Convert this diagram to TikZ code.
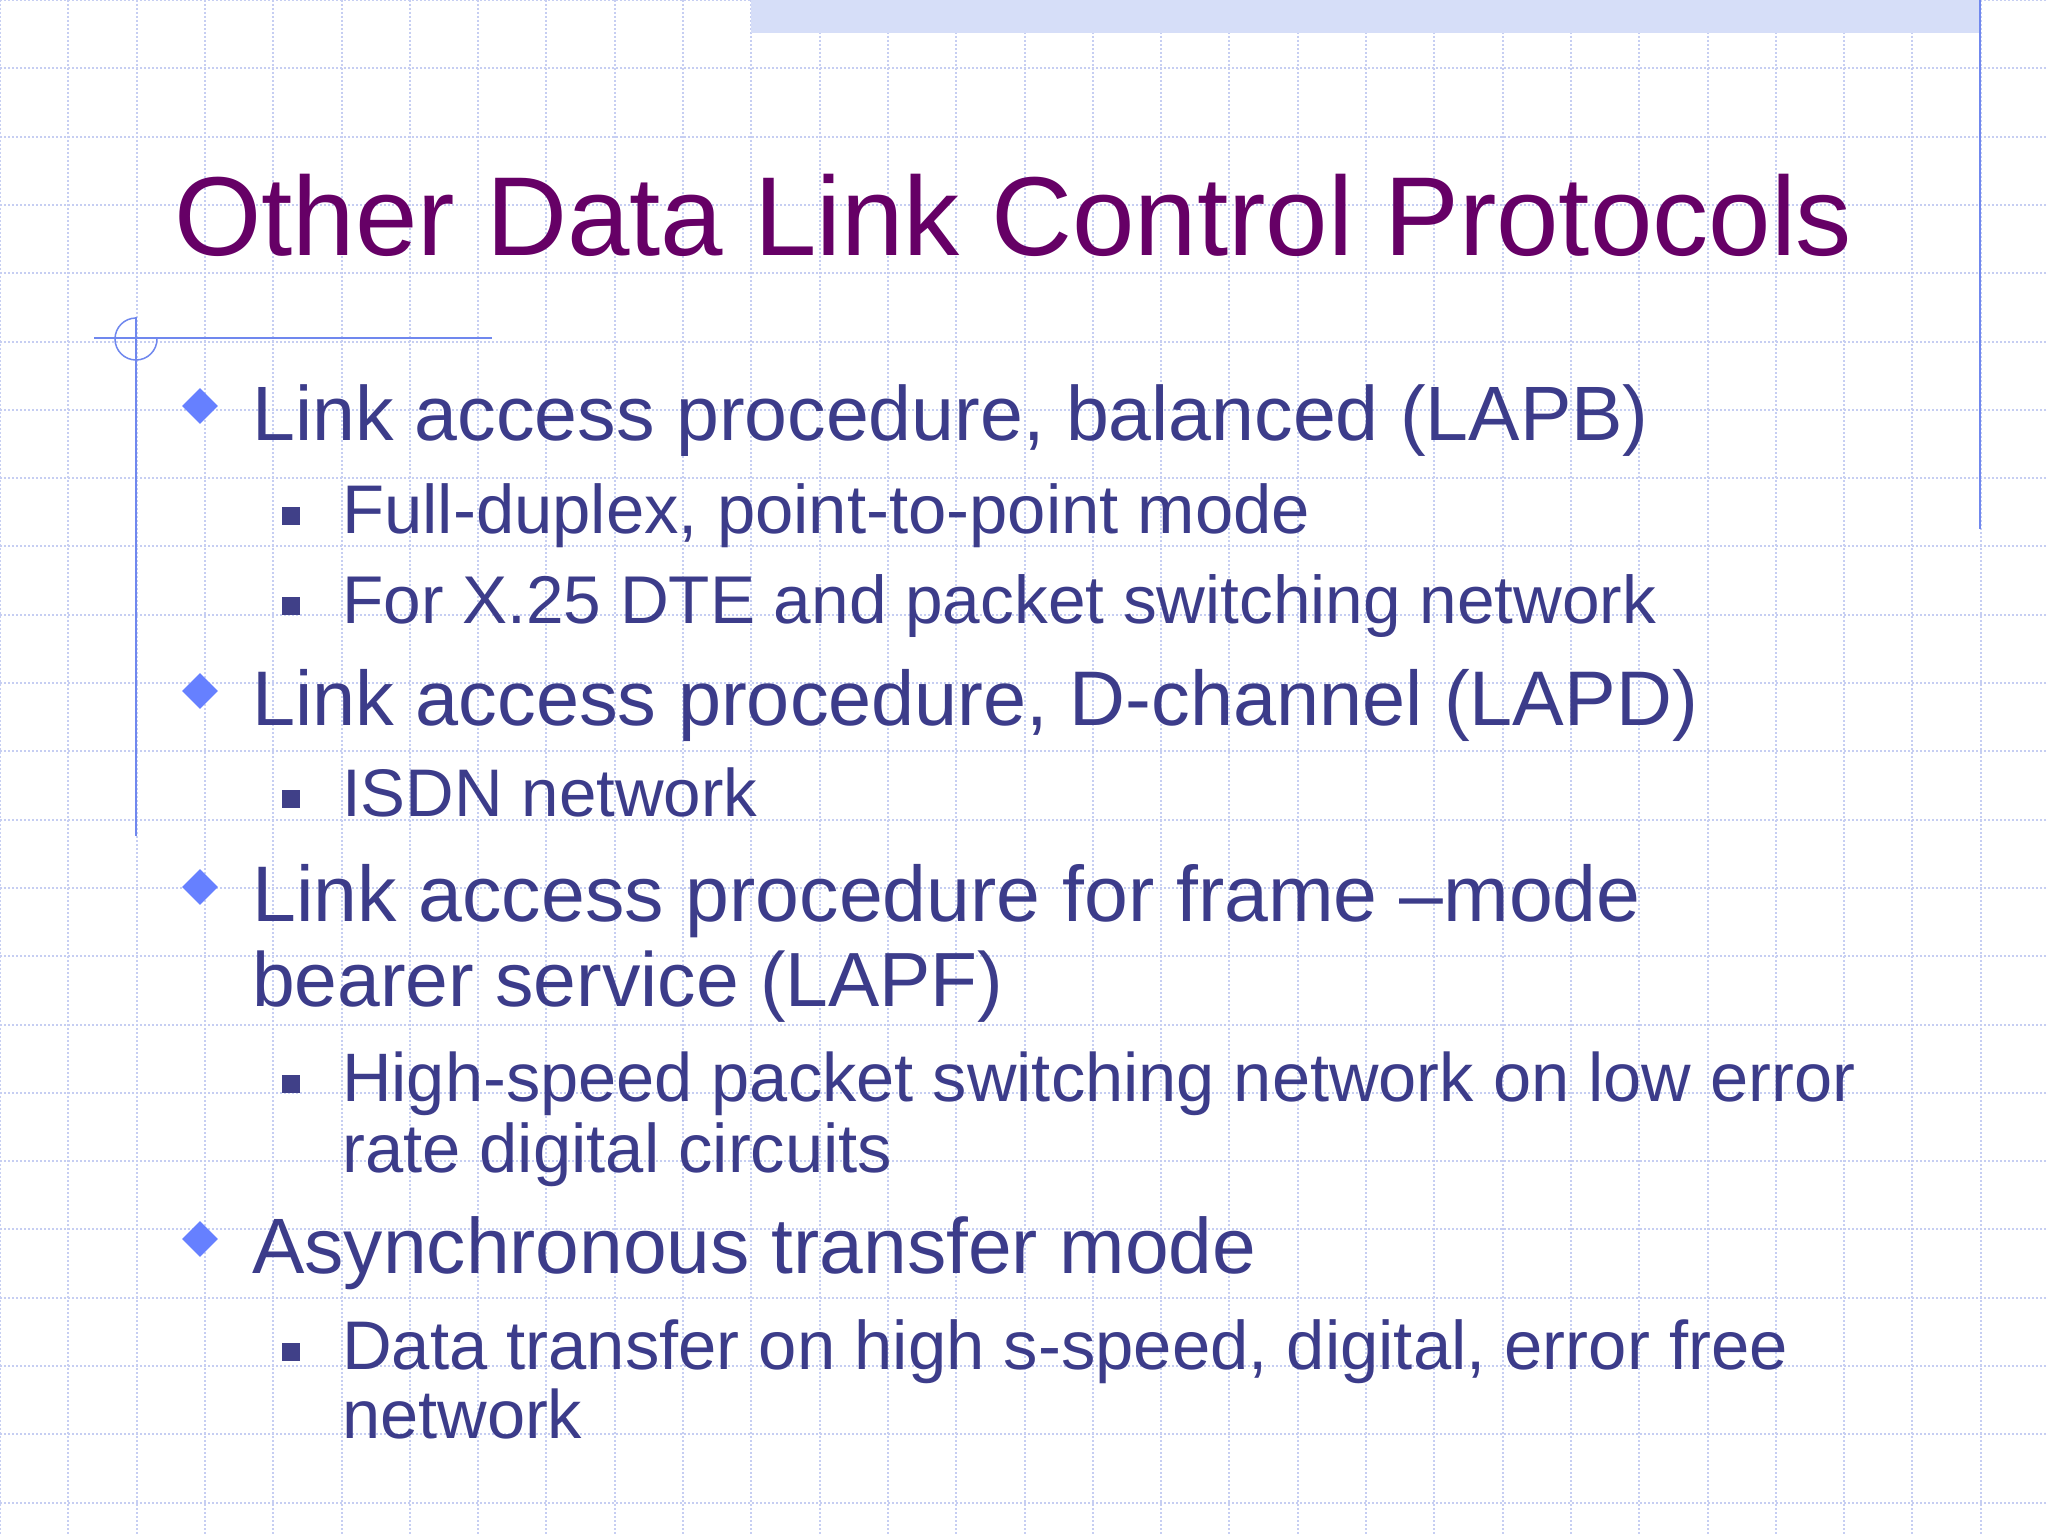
\documentclass[tikz,border=0pt]{standalone}
\usepackage{fontspec}
\setmainfont{Liberation Sans}
\definecolor{gridc}{HTML}{C6CEF2}
\definecolor{titlec}{HTML}{660066}
\definecolor{textc}{HTML}{3C3C8A}
\definecolor{diac}{HTML}{6680FF}
\definecolor{sqc}{HTML}{404088}
\definecolor{linec}{HTML}{7088EE}
\definecolor{bandc}{HTML}{D6DEF8}
\tikzset{
  lone/.style={anchor=base west,inner sep=0pt,text=textc},
  ttl/.style={anchor=base west,inner sep=0pt,text=titlec},
  dia/.style={diamond,fill=diac,inner sep=0pt,minimum size=36pt},
  sq/.style={rectangle,fill=sqc,inner sep=0pt,minimum size=18pt},
  gl/.style={gridc,line width=2pt,dotted}
}
\usetikzlibrary{shapes.geometric}
\begin{document}
\begin{tikzpicture}[x=1pt,y=-1pt]
\useasboundingbox (0,0) rectangle (2048,1536);
\fill[white] (0,0) rectangle (2048,1536);
\foreach \i in {0,...,30} {\draw[gl] (\i*68.3,0) -- (\i*68.3,1536);}
\foreach \j in {0,...,23} {\draw[gl] (0,\j*68.3) -- (2048,\j*68.3);}
\fill[bandc] (751,0) rectangle (1981,33);
\draw[linec,line width=1.5pt] (1980,0) -- (1980,529);
\draw[linec,line width=1.5pt] (94,338) -- (492,338);
\draw[linec,line width=1.5pt] (136,317) -- (136,836);
\draw[linec,line width=1.5pt] (136,339)+(0,-21) arc[start angle=90,end angle=360,radius=21,x radius=21,y radius=-21];
\node[ttl] (t) at (174,255) {\resizebox{1678pt}{!}{Other Data Link Control Protocols}};
% level 1
\node[dia] (d1) at (200,406) {};
\node[lone] (l1) at (252,440) {\resizebox{1396pt}{!}{Link access procedure, balanced (LAPB)}};
\node[sq] (s1) at (291,516) {};
\node[lone] (a1) at (342,533) {\resizebox{968pt}{!}{Full-duplex, point-to-point mode}};
\node[sq] (s2) at (291,606) {};
\node[lone] (a2) at (342,623) {\resizebox{1314pt}{!}{For X.25 DTE and packet switching network}};
\node[dia] (d2) at (200,691) {};
\node[lone] (l2) at (252,725) {\resizebox{1446pt}{!}{Link access procedure, D-channel (LAPD)}};
\node[sq] (s3) at (291,799) {};
\node[lone] (a3) at (342,816) {\resizebox{415pt}{!}{ISDN network}};
\node[dia] (d3) at (200,887) {};
\node[lone] (l3) at (252,921) {\resizebox{1388pt}{!}{Link access procedure for frame –mode}};
\node[lone] (l3b) at (252,1006) {\resizebox{751pt}{!}{bearer service (LAPF)}};
\node[sq] (s4) at (291,1084) {};
\node[lone] (a4) at (342,1101) {\resizebox{1513pt}{!}{High-speed packet switching network on low error}};
\node[lone] (a4b) at (342,1172) {\resizebox{550pt}{!}{rate digital circuits}};
\node[dia] (d4) at (200,1239) {};
\node[lone] (l4) at (252,1273) {\resizebox{1004pt}{!}{Asynchronous transfer mode}};
\node[sq] (s5) at (291,1352) {};
\node[lone] (a5) at (342,1369) {\resizebox{1445pt}{!}{Data transfer on high s-speed, digital, error free}};
\node[lone] (a5b) at (342,1438) {\resizebox{240pt}{!}{network}};
\end{tikzpicture}
\end{document}
